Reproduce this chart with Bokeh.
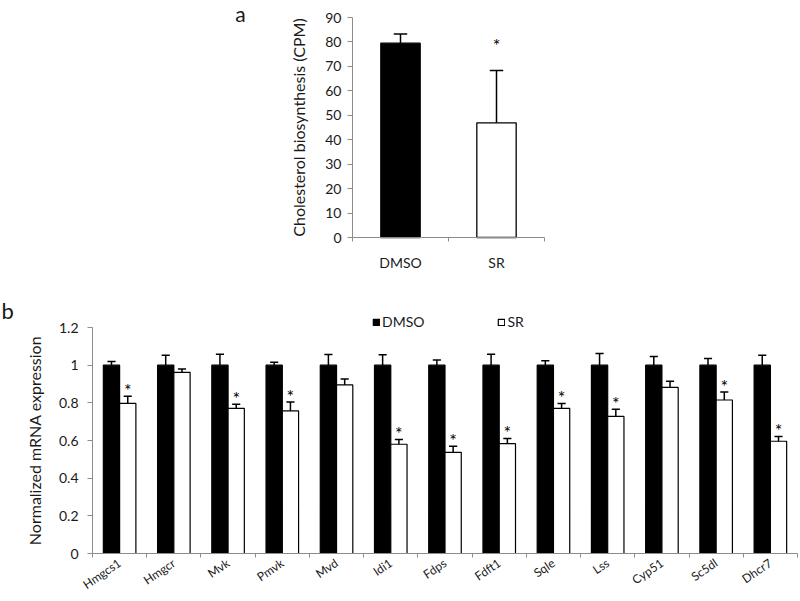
import numpy as np
from bokeh.plotting import figure
from bokeh.models import (Range1d, FixedTicker, Label, Legend, LegendItem,
                          NumeralTickFormatter)
from bokeh.core.properties import value
from bokeh.embed import file_html
from bokeh.resources import INLINE

# ---------------- data ----------------
top_groups = ["DMSO", "SR"]
top_values = [79.5, 46.9]
top_errors = [3.7, 21.4]
top_star = [0, 1]

genes = ["Hmgcs1", "Hmgcr", "Mvk", "Pmvk", "Mvd", "Idi1", "Fdps", "Fdft1",
         "Sqle", "Lss", "Cyp51", "Sc5dl", "Dhcr7"]
dmso_values = [1.0] * 13
dmso_errors = [0.02, 0.052, 0.058, 0.015, 0.057, 0.055, 0.027, 0.058,
               0.024, 0.062, 0.046, 0.036, 0.053]
sr_values = [0.797, 0.962, 0.771, 0.757, 0.895, 0.58, 0.537, 0.583,
             0.771, 0.728, 0.882, 0.815, 0.596]
sr_errors = [0.038, 0.018, 0.021, 0.048, 0.032, 0.025, 0.032, 0.027,
             0.025, 0.038, 0.032, 0.043, 0.025]
sr_star = [1, 0, 1, 1, 0, 1, 1, 1, 1, 1, 0, 1, 1]

top_ticks = list(range(0, 91, 10))
top_max = 90
bottom_ticks = [0, 0.2, 0.4, 0.6, 0.8, 1.0, 1.2]
bottom_max = 1.2

FONT = "Lato"
AXIS_COL = "#8c8c8c"
TXT_COL = "#1a1a1a"


def style_axes(p):
    p.outline_line_color = None
    p.xgrid.visible = False
    p.ygrid.visible = False
    for ax in (p.xaxis[0], p.yaxis[0]):
        ax.axis_line_color = AXIS_COL
        ax.major_tick_line_color = AXIS_COL
        ax.minor_tick_line_color = AXIS_COL
        ax.major_label_text_font = FONT
        ax.major_label_text_color = TXT_COL
        ax.axis_label_text_font = FONT
        ax.axis_label_text_font_style = "normal"
        ax.axis_label_text_color = TXT_COL


# ---------------- top chart (a) ----------------
# layout (pixels): y axis at x=352, plot area 352..544, value 0 at y=237, 90 at y=17
W1, H1 = 560, 270
AX1_X, CAT1_W = 352, 96.0
Y1_TOP, Y1_BOT = 17, 237
n1 = len(top_groups)
x1 = np.arange(n1)
ppu1 = (Y1_BOT - Y1_TOP) / top_max
x1_start = -0.5 - AX1_X / CAT1_W
x1_end = -0.5 + (W1 - AX1_X) / CAT1_W
y1_end = top_max + Y1_TOP / ppu1
y1_start = -(H1 - Y1_BOT) / ppu1

p1 = figure(width=W1, height=H1, x_range=Range1d(x1_start, x1_end),
            y_range=Range1d(y1_start, y1_end), output_backend="svg",
            toolbar_location=None, min_border=0)
style_axes(p1)
p1.vbar(x=x1, top=top_values, width=0.41,
        fill_color=["black", "white"], line_color="black", line_width=1.3)
t_top = np.array(top_values) + np.array(top_errors)
p1.segment(x0=x1, y0=top_values, x1=x1, y1=t_top, line_color="black", line_width=1.5)
p1.segment(x0=x1 - 0.07, y0=t_top, x1=x1 + 0.07, y1=t_top, line_color="black", line_width=1.5)
s1 = np.array(top_star, dtype=bool)
p1.text(x=x1[s1], y=t_top[s1] + 10.5, text=["*"] * int(s1.sum()),
        text_align="center", text_baseline="alphabetic",
        text_font=value(FONT), text_font_size="18px", text_color="black")

p1.xaxis.fixed_location = 0
p1.xaxis.ticker = FixedTicker(ticks=list(x1),
                              minor_ticks=list(np.arange(-0.5, n1, 1.0)))
p1.xaxis.major_label_overrides = {int(i): g for i, g in enumerate(top_groups)}
p1.xaxis.bounds = (-0.5, n1 - 0.5)
p1.xaxis.major_tick_out = 0
p1.xaxis.major_tick_in = 0
p1.xaxis.minor_tick_out = 4
p1.xaxis.minor_tick_in = 0
p1.xaxis.major_label_text_font_size = "14px"
p1.xaxis.major_label_standoff = 12

p1.yaxis.fixed_location = -0.5
p1.yaxis.bounds = (0, top_max)
p1.yaxis.ticker = FixedTicker(ticks=top_ticks)
p1.yaxis.major_tick_out = 5
p1.yaxis.major_tick_in = 0
p1.yaxis.minor_tick_out = 0
p1.yaxis.major_label_text_font_size = "14px"
p1.yaxis.major_label_standoff = 6
p1.yaxis.axis_label = "Cholesterol biosynthesis (CPM)"
p1.yaxis.axis_label_text_font_size = "16px"
p1.yaxis.axis_label_standoff = 14

p1.add_layout(Label(x=240, y=H1 - 13, x_units="screen", y_units="screen", text="a",
                    text_font=FONT, text_font_size="21px", text_align="center",
                    text_baseline="alphabetic", text_color=TXT_COL))

# ---------------- bottom chart (b) ----------------
# layout (pixels, within this figure starting at page y=270): y axis at x=92,
# axis right end x=797, value 0 at page y=553, 1.2 at page y=327
W2, H2 = 800, 330
TOP2 = H1
AX2_X, AX2_R = 92, 797
Y2_TOP, Y2_BOT = 327 - TOP2, 553 - TOP2
n2 = len(genes)
x2 = np.arange(n2)
cat2_w = (AX2_R - AX2_X) / n2
ppu2 = (Y2_BOT - Y2_TOP) / bottom_max
x2_start = -0.5 - AX2_X / cat2_w
x2_end = -0.5 + (W2 - AX2_X) / cat2_w
y2_end = bottom_max + Y2_TOP / ppu2
y2_start = -(H2 - Y2_BOT) / ppu2

p2 = figure(width=W2, height=H2, x_range=Range1d(x2_start, x2_end),
            y_range=Range1d(y2_start, y2_end), output_backend="svg",
            toolbar_location=None, min_border=0)
style_axes(p2)
xd = x2 - 0.15
xs = x2 + 0.15
r_d = p2.vbar(x=xd, top=dmso_values, width=0.3, fill_color="black",
              line_color="black", line_width=1.2)
r_s = p2.vbar(x=xs, top=sr_values, width=0.3, fill_color="white",
              line_color="black", line_width=1.2)
d_top = np.array(dmso_values) + np.array(dmso_errors)
s_top = np.array(sr_values) + np.array(sr_errors)
for xx, v, t in ((xd, dmso_values, d_top), (xs, sr_values, s_top)):
    p2.segment(x0=xx, y0=v, x1=xx, y1=t, line_color="black", line_width=1.5)
    p2.segment(x0=xx - 0.075, y0=t, x1=xx + 0.075, y1=t, line_color="black", line_width=1.5)
s2 = np.array(sr_star, dtype=bool)
p2.text(x=xs[s2], y=s_top[s2] + 0.033, text=["*"] * int(s2.sum()),
        text_align="center", text_baseline="alphabetic",
        text_font=value(FONT), text_font_size="18px", text_color="black")

p2.xaxis.fixed_location = 0
p2.xaxis.ticker = FixedTicker(ticks=list(x2),
                              minor_ticks=list(np.arange(-0.5, n2, 1.0)))
p2.xaxis.major_label_overrides = {int(i): g for i, g in enumerate(genes)}
p2.xaxis.bounds = (-0.5, n2 - 0.5)
p2.xaxis.major_tick_out = 0
p2.xaxis.major_tick_in = 0
p2.xaxis.minor_tick_out = 4
p2.xaxis.minor_tick_in = 0
p2.xaxis.major_label_text_font_size = "12px"
p2.xaxis.major_label_orientation = 0.6
p2.xaxis.major_label_standoff = 4

p2.yaxis.fixed_location = -0.5
p2.yaxis.ticker = FixedTicker(ticks=bottom_ticks)
p2.yaxis.formatter = NumeralTickFormatter(format="0.[0]")
p2.yaxis.bounds = (0, bottom_max)
p2.yaxis.major_tick_out = 5
p2.yaxis.major_tick_in = 0
p2.yaxis.minor_tick_out = 0
p2.yaxis.major_label_text_font_size = "14px"
p2.yaxis.major_label_standoff = 9
p2.yaxis.axis_label = "Normalized mRNA expression"
p2.yaxis.axis_label_text_font_size = "16px"
p2.yaxis.axis_label_standoff = 12

legend = Legend(items=[LegendItem(label="DMSO", renderers=[r_d]),
                       LegendItem(label="SR", renderers=[r_s])],
                location=(372, H2 + TOP2 - 330), orientation="horizontal",
                glyph_width=8, glyph_height=8, label_standoff=2,
                label_height=16, spacing=73, padding=0, margin=0,
                border_line_color=None, background_fill_alpha=0,
                label_text_font=FONT, label_text_font_size="14px",
                label_text_color=TXT_COL)
p2.add_layout(legend, "center")

p2.add_layout(Label(x=1, y=H2 + TOP2 - 310, x_units="screen", y_units="screen", text="b",
                    text_font=FONT, text_font_size="22px", text_align="left",
                    text_baseline="alphabetic", text_color=TXT_COL))

open("out.html", "w").write(file_html([p1, p2], INLINE))
